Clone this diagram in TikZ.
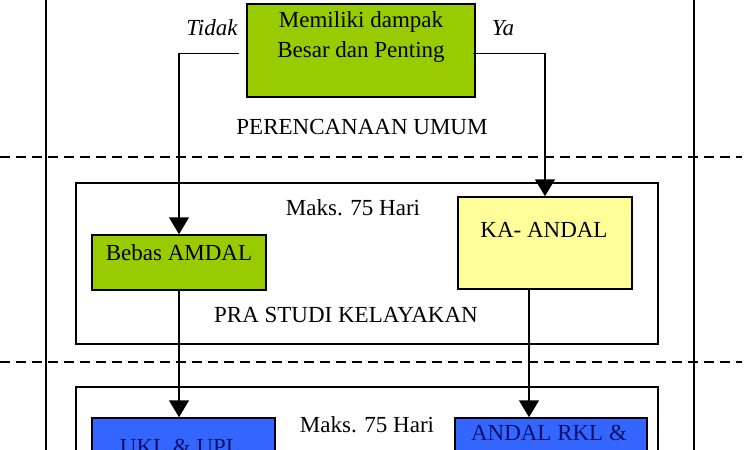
\documentclass[tikz,border=0pt]{standalone}
\usepackage{fontspec}
\setmainfont{Liberation Serif}
\usetikzlibrary{arrows.meta}
\definecolor{boxgreen}{HTML}{99CC00}
\definecolor{boxyellow}{HTML}{FFFF99}
\definecolor{boxblue}{HTML}{3366FF}
\definecolor{boxnavy}{HTML}{10106A}
\begin{document}
\begin{tikzpicture}[x=1pt,y=-1pt,
  box/.style={draw=black, line width=1.5pt, inner sep=0pt},
  txt/.style={anchor=base, inner sep=0pt, font=\fontsize{23}{28}\selectfont},
  arr/.style={line width=1.5pt, -{Triangle[width=20pt,length=17pt]}},
  sepline/.style={line width=1.5pt, dash pattern=on 10pt off 6pt},
  frame/.style={line width=1.5pt}]
\useasboundingbox (0,0) rectangle (750,450);
\clip (0,0) rectangle (750,450);
% outer frame lines and separators
\draw[frame] (46,0) -- (46,450);
\draw[frame] (694,0) -- (694,450);
\draw[sepline] (0,157) -- (742,157);
\draw[sepline] (0,362) -- (742,362);
% stage boxes
\node[box, fill=white, minimum width=582pt, minimum height=161pt] (stage2) at (367,263.5) {};
\node[box, fill=white, minimum width=582pt, minimum height=180pt] (stage3) at (367,477) {};
% decision box
\node[box, fill=boxgreen, minimum width=228pt, minimum height=93pt] (top) at (361,50.5) {};
\node[txt] (topa) at (361,27) {Memiliki dampak};
\node[txt] (topb) at (361,57) {Besar dan Penting};
\node[txt, font=\fontsize{23}{28}\selectfont\itshape] (tidak) at (212,35) {Tidak};
\node[txt, font=\fontsize{23}{28}\selectfont\itshape] (ya) at (503,35) {Ya};
\node[txt] (plan) at (362,134) {PERENCANAAN UMUM};
% stage 2
\node[txt] (maks1) at (353,215) {Maks. 75 Hari};
\node[box, fill=boxgreen, minimum width=174pt, minimum height=55pt] (bebas) at (179,262.5) {};
\node[txt] (bebast) at (179,260) {Bebas AMDAL};
\node[box, fill=boxyellow, minimum width=174pt, minimum height=92pt] (ka) at (545,243) {};
\node[txt] (kat) at (544,237) {KA- ANDAL};
\node[txt] (pra) at (346,322) {PRA STUDI KELAYAKAN};
% stage 3
\node[txt] (maks2) at (367,432) {Maks. 75 Hari};
\node[box, fill=boxblue, minimum width=183pt, minimum height=80pt] (ukl) at (183.5,458) {};
\node[txt, text=boxnavy] (uklt) at (180,454) {UKL \& UPL};
\node[box, fill=boxblue, minimum width=192pt, minimum height=80pt] (andal) at (551,458) {};
\node[txt, text=boxnavy] (andalt) at (549,440) {ANDAL RKL \&};
% connectors
\draw[arr] ([shift={(-7,3)}]top.west) -| (bebas.north);
\draw[arr] ([shift={(-3,3)}]top.east) -| (ka.north);
\draw[arr] (bebas.south) -- (bebas.south |- ukl.north);
\draw[arr] ([xshift=-16pt]ka.south) -- ([xshift=-16pt]ka.south |- andal.north);
\end{tikzpicture}
\end{document}
